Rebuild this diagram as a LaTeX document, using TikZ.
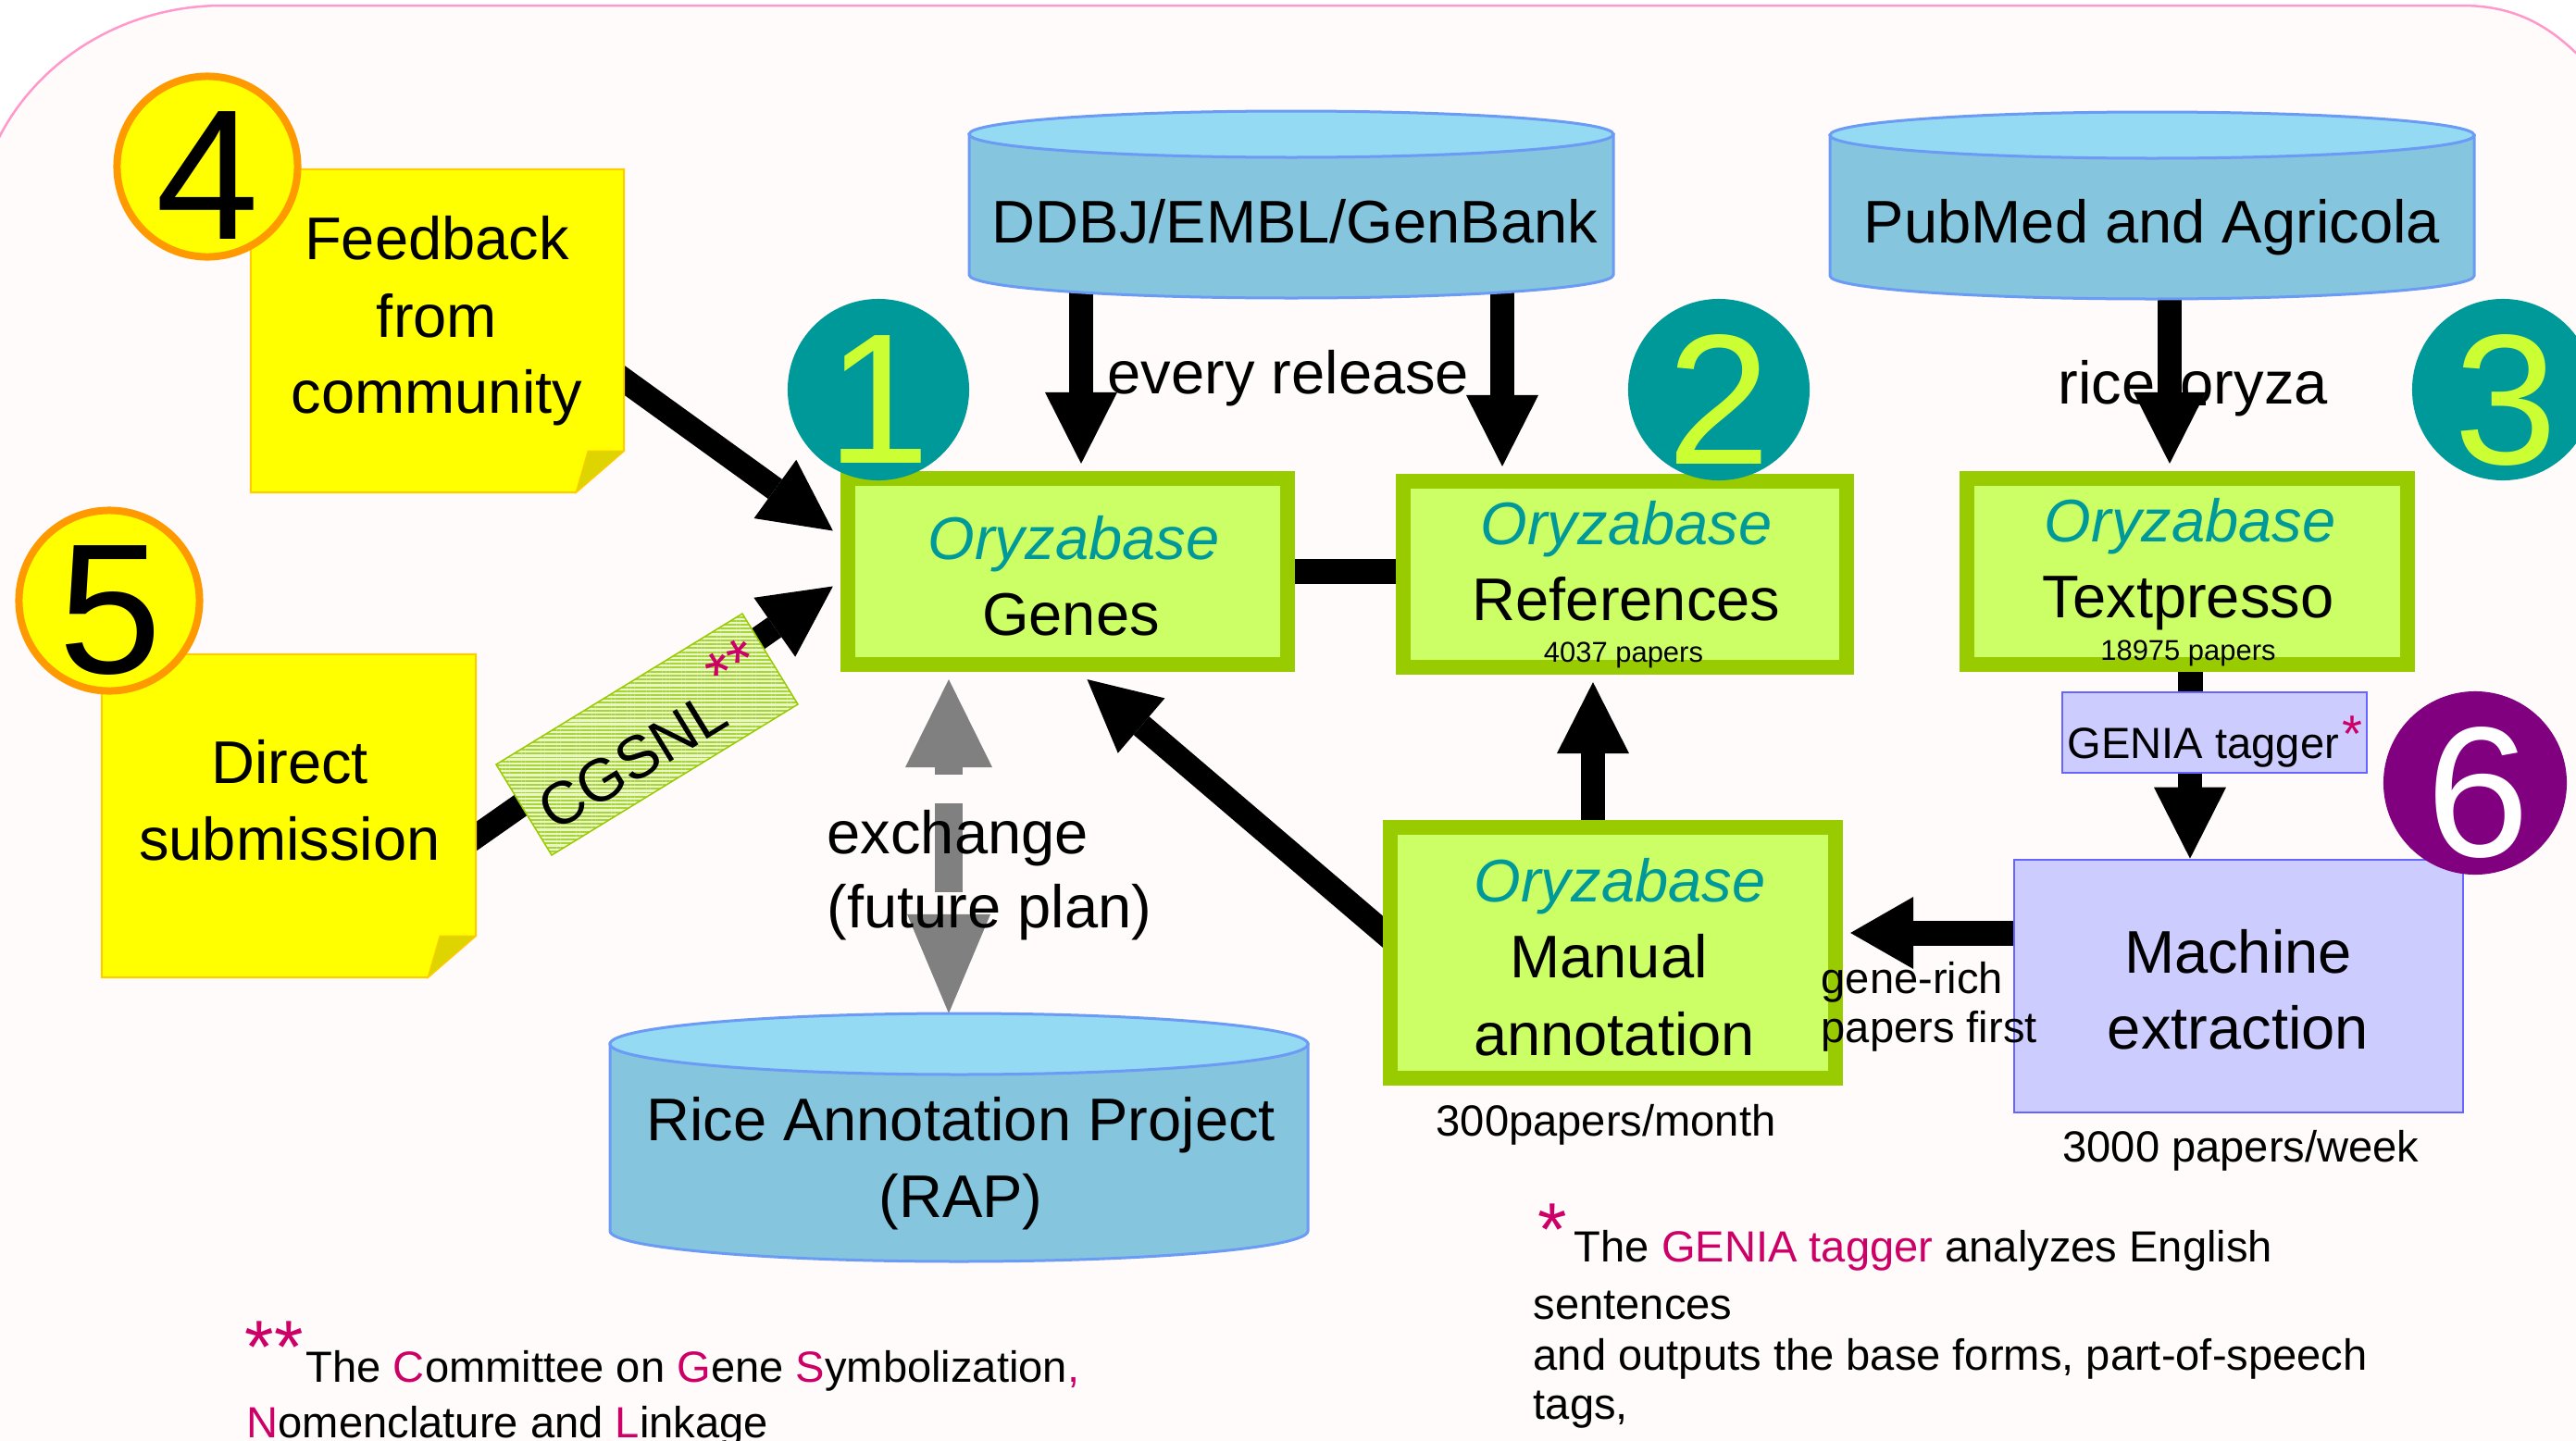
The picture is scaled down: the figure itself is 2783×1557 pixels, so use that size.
\documentclass[tikz,border=0pt]{standalone}
\usepackage{fontspec}
\setmainfont{Liberation Sans}
\usetikzlibrary{arrows.meta,calc,patterns.meta}
\pgfdeclarelayer{back}
\pgfdeclarelayer{under}
\pgfsetlayers{back,under,main}
\definecolor{ozteal}{HTML}{009999}
\definecolor{digitgreen}{HTML}{CCFF33}
\definecolor{gborder}{HTML}{99CC00}
\definecolor{gfill}{HTML}{CCFF66}
\definecolor{lav}{HTML}{CCCCFF}
\definecolor{lavline}{HTML}{6666FF}
\definecolor{cyltopc}{HTML}{93DAF2}
\definecolor{cylbodyc}{HTML}{85C5DE}
\definecolor{cyllinec}{HTML}{6B9BF5}
\definecolor{mag}{HTML}{CC0066}
\definecolor{notey}{HTML}{FFFF00}
\definecolor{noteline}{HTML}{FFCC00}
\definecolor{notefold}{HTML}{DDD400}
\definecolor{orng}{HTML}{FF9900}
\definecolor{purp}{HTML}{800080}
\definecolor{bgpink}{HTML}{FF99CC}
\definecolor{bgfill}{HTML}{FFFBFB}
\definecolor{exgray}{HTML}{808080}
\definecolor{bannerlight}{HTML}{EAF6C4}
\definecolor{bannerline}{HTML}{A6D43A}
\newcommand\dbcyl[5]{%
  \filldraw[fill=cylbodyc, draw=cyllinec, line width=0.03cm] ({#1-#4},#2) -- ({#1-#4},#3)
     arc[start angle=180, end angle=360, x radius=#4*0.01cm, y radius=#5*0.01cm] -- ({#1+#4},#2) -- cycle;
  \filldraw[fill=cyltopc, draw=cyllinec, line width=0.03cm] (#1,#2) ellipse[x radius=#4*0.01cm, y radius=#5*0.01cm];
}
\tikzset{
  bigtxt/.style={font=\fontsize{18.5}{22}\selectfont, inner sep=0pt, anchor=base},
  midtxt/.style={font=\fontsize{13.4}{16}\selectfont, inner sep=0pt, anchor=base},
  smalltxt/.style={font=\fontsize{8.8}{10}\selectfont, inner sep=0pt, anchor=base},
  oztxt/.style={font=\fontsize{18.5}{22}\selectfont\itshape, text=ozteal, inner sep=0pt, anchor=base},
  startxt/.style={font=\fontsize{23}{23}\selectfont, text=mag, inner sep=0pt, anchor=base west},
  digit/.style={font=\fontsize{57}{57}\selectfont, inner sep=0pt},
  gbox/.style={draw=gborder, fill=gfill, line width=0.16cm, inner sep=0pt},
  lbox/.style={draw=lavline, fill=lav, line width=0.025cm, inner sep=0pt},
  notebody/.style={fill=notey, draw=noteline, line width=0.02cm},
  notefoldst/.style={fill=notefold, draw=noteline, line width=0.01cm},
  tealc/.style={circle, fill=ozteal, inner sep=0pt, minimum size=1.96cm},
  orc/.style={circle, fill=notey, draw=orng, line width=0.08cm, inner sep=0pt, minimum size=1.95cm},
  blk/.style={line width=0.26cm, -{Triangle[length=0.77cm,width=0.78cm,line width=0pt]}},
  blkshort/.style={line width=0.27cm, -{Triangle[length=0.68cm,width=0.78cm,line width=0pt]}},
  bar/.style={line width=0.27cm},
  ghost/.style={inner sep=0pt, outer sep=0pt},
}
\begin{document}
\begin{tikzpicture}[x=0.01cm, y=-0.01cm]
\useasboundingbox (0,0) rectangle (2783,1557);
\clip (0,0) rectangle (2783,1557);
\begin{pgfonlayer}{back}
\fill[white] (0,0) rectangle (2783,1557);
\path[fill=bgfill, draw=bgpink, line width=0.025cm] (-10,168) .. controls (30,70) and (130,6) .. (240,6) -- (2660,6) .. controls (2720,6) and (2760,30) .. (2800,75) -- (2800,1600) -- (-10,1600) -- cycle;
\end{pgfonlayer}

% notes
\node[ghost, minimum width=4.03cm, minimum height=3.49cm] (fb) at (472.5,357.5) {};
\draw[notebody] (fb.north west) -- (fb.north east) -- ($(fb.south east)+(0,-45)$) -- ($(fb.south east)+(-52,0)$) -- (fb.south west) -- cycle;
\draw[notefoldst] ($(fb.south east)+(0,-45)$) -- ($(fb.south east)+(-39,-45)$) -- ($(fb.south east)+(-52,0)$) -- cycle;
\node[ghost, minimum width=4.04cm, minimum height=3.49cm] (dsub) at (312,881.5) {};
\draw[notebody] (dsub.north west) -- (dsub.north east) -- ($(dsub.south east)+(0,-45)$) -- ($(dsub.south east)+(-52,0)$) -- (dsub.south west) -- cycle;
\draw[notefoldst] ($(dsub.south east)+(0,-45)$) -- ($(dsub.south east)+(-39,-45)$) -- ($(dsub.south east)+(-52,0)$) -- cycle;

% boxes
\node[gbox, minimum width=4.75cm, minimum height=2.01cm] (genes) at (1153.5,617.5) {};
\node[gbox, minimum width=4.79cm, minimum height=2.01cm] (refs) at (1755.5,620.5) {};
\node[gbox, minimum width=4.76cm, minimum height=2.01cm] (tp) at (2363,617.5) {};
\node[gbox, minimum width=4.81cm, minimum height=2.71cm] (man) at (1742.5,1029.5) {};
\node[lbox, minimum width=4.85cm, minimum height=2.73cm] (mach) at (2418.5,1065.5) {};
\node[lbox, minimum width=3.29cm, minimum height=0.87cm] (genia) at (2392.5,791.5) {};

% cylinder anchors
\node[ghost, minimum width=6.96cm, minimum height=2.02cm] (ddbj) at (1395,221) {};
\node[ghost, minimum width=6.96cm, minimum height=2.02cm] (pubmed) at (2325,222) {};
\node[ghost, minimum width=7.54cm, minimum height=2.68cm] (rap) at (1036,1229) {};

% text for rice/oryza
\node[bigtxt, anchor=base west] (t-rice) at (2223,436) {rice};
\node[bigtxt, anchor=base west] (t-oryza) at (2355,436) {oryza};

% connectors (under)
\begin{pgfonlayer}{under}
\draw[line width=0.04cm] ($(t-rice.base east)+(-12,0)$) -- ($(t-oryza.base west)+(28,0)$);
\draw[blk] ($(ddbj.south -| 1168,0)+(0,-20)$) -- ($(genes.north -| 1168,0)+(0,-8)$);
\draw[blk] ($(ddbj.south -| 1623,0)+(0,-20)$) -- ($(refs.north -| 1623,0)+(0,-8)$);
\draw[blk] ($(pubmed.south -| 2344,0)+(0,-10)$) -- ($(tp.north -| 2344,0)+(0,-8)$);
\draw[blk] ($(fb.east)+(-25,35)$) -- ($(genes.west)+(-8,-44)$);
\draw[blk] ($(dsub.east)+(-25,40)$) -- ($(genes.west)+(-8,16)$);
\draw[blk] ($(man.west)+(15,-10)$) -- ($(genes.south)+(21,8)$);
\draw[blk] (man.north -| 1721,0) -- ($(refs.south -| 1721,0)+(0,8)$);
\draw[bar] (genes.east) -- (genes.east -| refs.west);
\draw[bar] (tp.south -| 2366,0) -- (genia.north -| 2366,0);
\draw[blk] (genia.south -| 2366,0) -- (mach.north -| 2366,0);
\draw[blkshort] ($(mach.west)+(0,-57.5)$) -- ($(man.east)+(8,-21.5)$);
\draw[exgray, line width=0.30cm, dash pattern=on 0.08cm off 0.31cm on 0.96cm off 0.32cm,
  {Triangle[length=0.95cm,width=0.94cm,line width=0pt]}-{Triangle[length=1.07cm,width=0.9cm,line width=0pt]}]
  ($(genes.south -| 1025,0)+(0,8)$) -- (rap.north -| 1025,0);
\end{pgfonlayer}

% cylinders
\dbcyl{1395}{145}{297}{348}{25}
\dbcyl{2325}{146}{298}{348}{25}
\dbcyl{1036}{1128}{1330}{377}{33}

% CGSNL banner
\path[preaction={fill=bannerlight}, pattern={Lines[angle=0,distance=1.2pt,line width=0.55pt]}, pattern color=bannerline]
  (536,826) -- (802,663) -- (862,761) -- (596,924) -- cycle;
\draw[gborder, line width=0.015cm] (536,826) -- (802,663) -- (862,761) -- (596,924) -- cycle;
\node[bigtxt, anchor=center, rotate=31.5] (t-cgsnl) at (683,822) {CGSNL};
\node[font=\fontsize{19.5}{20}\selectfont, text=mag, rotate=31.5, inner sep=0pt] (t-cstar) at (792,720) {**};

% circles
\node[orc] (c4) at (224,180) {};
\node[digit] (n4) at (224,190) {4};
\node[orc] (c5) at (118,649) {};
\node[digit] (n5) at (119,660) {5};
\node[tealc] (c1) at (949,421) {};
\node[digit, text=digitgreen] (n1) at (949,432) {1};
\node[tealc] (c2) at (1857,421) {};
\node[digit, text=digitgreen] (n2) at (1857,432) {2};
\node[tealc] (c3) at (2704,421) {};
\node[digit, text=digitgreen] (n3) at (2707,432) {3};
\node[tealc, fill=purp, minimum size=1.98cm] (c6) at (2674,846) {};
\node[digit, text=white] (n6) at (2677,856) {6};

% texts
\node[bigtxt] (t-fb1) at (472,280) {Feedback};
\node[bigtxt] (t-fb2) at (472,364) {from};
\node[bigtxt] (t-fb3) at (472,446) {community};
\node[bigtxt] (t-ds1) at (313,846) {Direct};
\node[bigtxt] (t-ds2) at (313,929) {submission};
\node[bigtxt] (t-ddbj) at (1399,262) {DDBJ/EMBL/GenBank};
\node[bigtxt] (t-pub) at (2325,262) {PubMed and Agricola};
\node[bigtxt] (t-rap1) at (1038,1232) {Rice Annotation Project};
\node[bigtxt] (t-rap2) at (1038,1315) {(RAP)};
\node[oztxt] (t-oz1) at (1160,604) {Oryzabase};
\node[bigtxt] (t-genes) at (1157,686) {Genes};
\node[oztxt] (t-oz2) at (1757,588) {Oryzabase};
\node[bigtxt] (t-refs) at (1757,670) {References};
\node[smalltxt] (t-4037) at (1754,715) {4037 papers};
\node[oztxt] (t-oz3) at (2366,585) {Oryzabase};
\node[bigtxt] (t-tp) at (2364,667) {Textpresso};
\node[smalltxt] (t-18975) at (2364,713) {18975 papers};
\node[oztxt] (t-oz4) at (1750,974) {Oryzabase};
\node[bigtxt] (t-man1) at (1738,1056) {Manual};
\node[bigtxt] (t-man2) at (1744,1140) {annotation};
\node[bigtxt] (t-mach1) at (2418,1051) {Machine};
\node[bigtxt] (t-mach2) at (2418,1133) {extraction};
\node[midtxt] (t-300) at (1735,1227) {300papers/month};
\node[midtxt] (t-3000) at (2421,1255) {3000 papers/week};
\node[midtxt, anchor=base west] (t-gr1) at (1967,1073) {gene-rich};
\node[midtxt, anchor=base west] (t-gr2) at (1967,1126) {papers first};
\node[bigtxt] (t-every) at (1392,425) {every release};
\node[bigtxt, anchor=base west] (t-ex1) at (893,922) {exchange};
\node[bigtxt, anchor=base west] (t-ex2) at (893,1002) {(future plan)};
\node[midtxt, anchor=base west] (t-genia) at (2233,819) {GENIA tagger};
\node[font=\fontsize{16}{16}\selectfont, text=mag, inner sep=0pt, anchor=base west] (t-gstar) at (2530,812) {*};

% footnotes
\node[startxt] (fn1s) at (264,1483) {**};
\node[midtxt, anchor=base west] (fn1) at (330,1493) {The \textcolor{mag}{C}ommittee on \textcolor{mag}{G}ene \textcolor{mag}{S}ymbolization\textcolor{mag}{,}};
\node[midtxt, anchor=base west] (fn2) at (266,1553) {\textcolor{mag}{N}omenclature and \textcolor{mag}{L}inkage};
\node[startxt] (fn3s) at (1661,1356) {*};
\node[midtxt, anchor=base west] (fn3) at (1700,1363) {The \textcolor{mag}{GENIA tagger} analyzes English};
\node[midtxt, anchor=base west] (fn4) at (1656,1425) {sentences};
\node[midtxt, anchor=base west] (fn5) at (1656,1480) {and outputs the base forms, part-of-speech};
\node[midtxt, anchor=base west] (fn6) at (1656,1533) {tags,};
\end{tikzpicture}
\end{document}
